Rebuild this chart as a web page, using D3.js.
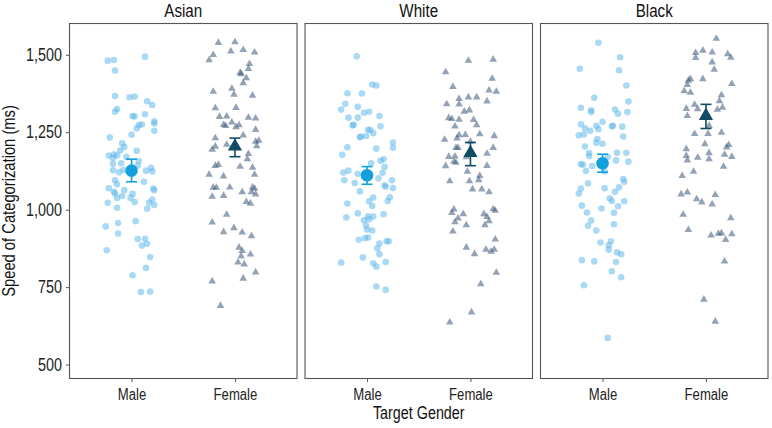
<!DOCTYPE html>
<html><head><meta charset="utf-8">
<script src="https://cdn.jsdelivr.net/npm/d3@7"></script>
<style>
html,body{margin:0;padding:0;background:#fff;}
svg text{font-family:"Liberation Sans",Arial,sans-serif;}
</style></head>
<body><svg id="chart" width="772" height="428"></svg>
<script>
// ---------- data ----------
const races = ["Asian", "White", "Black"];
const genders = ["Male", "Female"];
const yTicks = [500, 750, 1000, 1250, 1500];
const yTitle = "Speed of Categorization (ms)";
const xTitle = "Target Gender";

// individual participants: [RT in ms, horizontal jitter in category units]
const asianMale = [[1481,-0.23],[1483,-0.17],[1494,0.13],[1449,-0.16],[1367,-0.16],[1363,-0.02],[1365,0.03],[1350,0.15],[1338,0.2],[1325,-0.14],[1316,-0.16],[1302,0.01],[1301,0.03],[1308,0.13],[1285,0.22],[1278,0.22],[1275,0.1],[1273,0.07],[1262,0.05],[1255,0.22],[1242,0.0],[1233,-0.21],[1214,-0.09],[1202,-0.07],[1191,-0.11],[1190,0.05],[1175,-0.22],[1178,-0.17],[1175,-0.14],[1167,-0.18],[1171,-0.05],[1157,0.07],[1148,-0.18],[1150,-0.1],[1142,0.06],[1127,-0.18],[1128,-0.08],[1121,-0.12],[1135,0.19],[1126,0.14],[1123,0.2],[1095,-0.16],[1082,-0.14],[1090,0.12],[1069,-0.22],[1058,-0.17],[1063,-0.07],[1052,-0.16],[1044,-0.09],[1051,0.01],[1068,0.21],[1063,0.22],[1033,0.2],[1038,-0.14],[1038,-0.01],[1022,-0.23],[1025,0.03],[1022,0.17],[1015,0.22],[1006,-0.14],[1003,0.15],[946,-0.25],[957,-0.13],[963,0.04],[923,-0.13],[905,0.06],[906,0.13],[884,0.1],[890,0.15],[869,-0.24],[847,0.18],[812,0.14],[788,0.01],[734,0.09],[736,0.18]];
const asianFemale = [[1539,-0.16],[1541,0.0],[1500,-0.21],[1511,-0.04],[1516,0.08],[1508,0.19],[1483,-0.25],[1471,0.14],[1455,0.13],[1442,0.05],[1438,0.06],[1425,0.11],[1409,0.08],[1381,-0.21],[1391,-0.03],[1372,-0.01],[1368,0.17],[1328,-0.19],[1329,0.01],[1300,-0.15],[1301,-0.08],[1297,0.13],[1295,0.2],[1274,-0.11],[1271,-0.09],[1282,-0.03],[1267,0.01],[1273,0.04],[1258,0.2],[1240,0.08],[1231,-0.19],[1223,0.23],[1220,0.2],[1204,-0.19],[1210,-0.08],[1194,-0.22],[1205,0.21],[1180,0.13],[1163,0.12],[1142,-0.19],[1145,-0.16],[1139,0.05],[1136,0.17],[1113,-0.25],[1108,-0.11],[1113,0.19],[1071,-0.21],[1071,-0.18],[1072,-0.05],[1072,0.17],[1068,0.19],[1042,-0.22],[1045,-0.11],[1057,0.07],[1057,0.16],[1050,0.2],[1025,0.11],[1020,0.15],[984,-0.08],[959,-0.22],[928,-0.11],[941,-0.01],[927,0.07],[915,0.16],[878,0.04],[867,0.07],[850,0.06],[856,0.15],[830,0.03],[824,0.09],[798,0.2],[769,-0.22],[778,0.08],[690,-0.14]];
const whiteMale = [[1495,-0.1],[1404,0.05],[1401,0.09],[1376,-0.19],[1375,-0.05],[1342,-0.21],[1323,-0.25],[1332,-0.09],[1313,-0.03],[1316,0.02],[1302,0.12],[1297,-0.18],[1297,-0.09],[1274,-0.13],[1272,-0.14],[1269,0.13],[1258,0.01],[1257,0.03],[1247,0.06],[1236,-0.06],[1234,-0.07],[1238,-0.01],[1217,0.25],[1201,-0.19],[1197,0.09],[1200,0.25],[1177,-0.24],[1163,0.16],[1158,0.13],[1150,0.04],[1138,0.17],[1120,-0.23],[1126,-0.18],[1116,-0.09],[1119,0.15],[1095,-0.22],[1086,-0.12],[1101,0.11],[1095,0.24],[1079,0.17],[1074,0.18],[1070,0.25],[1059,-0.07],[1039,0.06],[1040,0.22],[1020,-0.19],[1027,0.02],[1012,0.05],[1028,0.2],[975,-0.2],[988,-0.09],[979,0.01],[978,0.06],[985,0.16],[966,-0.03],[969,0.02],[949,-0.01],[936,0.0],[933,0.05],[903,-0.08],[908,-0.02],[910,0.01],[891,0.12],[898,0.19],[898,0.21],[875,0.1],[856,0.12],[846,-0.04],[829,-0.25],[827,0.06],[816,0.09],[831,0.18],[752,0.09],[741,0.18]];
const whiteFemale = [[1481,-0.02],[1485,0.22],[1444,-0.24],[1423,0.21],[1397,-0.17],[1385,0.18],[1381,0.25],[1358,-0.11],[1363,-0.02],[1363,0.06],[1341,-0.23],[1340,-0.11],[1350,0.16],[1317,-0.06],[1321,-0.01],[1296,-0.21],[1293,-0.18],[1291,-0.11],[1290,0.03],[1269,-0.15],[1273,0.06],[1241,-0.11],[1242,-0.05],[1244,0.09],[1238,0.23],[1226,-0.25],[1230,-0.13],[1220,0.0],[1200,-0.14],[1200,-0.12],[1200,0.22],[1171,-0.21],[1172,-0.15],[1170,-0.04],[1181,0.16],[1141,-0.24],[1155,-0.16],[1152,-0.14],[1142,0.16],[1123,-0.03],[1109,0.09],[1092,-0.2],[1092,-0.01],[1096,0.08],[1066,0.02],[1066,0.11],[1057,0.18],[1001,-0.16],[990,-0.18],[986,-0.07],[972,-0.12],[960,-0.15],[950,-0.04],[986,0.13],[977,0.16],[1002,0.22],[997,0.24],[963,0.18],[950,0.14],[930,-0.17],[904,0.24],[878,-0.04],[857,0.04],[871,0.15],[865,0.2],[871,0.23],[797,0.25],[760,0.1],[669,0.01],[636,-0.2]];
const blackMale = [[1539,-0.04],[1492,0.17],[1455,-0.22],[1450,0.16],[1401,0.23],[1361,-0.08],[1349,0.25],[1329,-0.21],[1321,-0.11],[1315,-0.11],[1323,0.12],[1315,0.24],[1310,0.15],[1284,0.0],[1276,-0.21],[1271,-0.06],[1263,-0.17],[1260,-0.04],[1269,0.09],[1271,0.1],[1268,0.19],[1240,-0.23],[1243,-0.18],[1255,-0.12],[1228,-0.05],[1216,-0.06],[1236,0.2],[1213,0.0],[1204,-0.17],[1183,-0.13],[1184,0.14],[1184,0.23],[1173,-0.13],[1171,0.05],[1147,-0.21],[1145,-0.19],[1141,-0.1],[1159,0.13],[1155,0.25],[1125,-0.16],[1123,0.02],[1085,-0.14],[1099,0.2],[1090,0.21],[1072,0.16],[1068,-0.21],[1069,0.02],[1058,0.12],[1052,-0.23],[1037,0.07],[1028,0.09],[1013,-0.2],[1004,-0.01],[1011,0.15],[1027,0.21],[991,-0.15],[990,0.11],[965,-0.11],[948,-0.14],[953,0.11],[933,-0.06],[894,-0.02],[898,0.08],[885,0.06],[871,0.06],[862,0.14],[856,0.18],[837,-0.2],[833,-0.08],[831,0.13],[801,0.09],[782,0.18],[756,-0.18],[586,0.05]];
const blackFemale = [[1552,0.1],[1506,-0.1],[1514,-0.03],[1508,0.06],[1502,0.21],[1490,-0.1],[1491,0.24],[1476,0.06],[1452,0.08],[1422,-0.15],[1417,-0.17],[1422,-0.03],[1403,-0.18],[1383,-0.21],[1378,-0.15],[1406,0.25],[1370,0.15],[1351,0.13],[1330,0.16],[1326,-0.19],[1339,-0.11],[1325,-0.08],[1323,0.11],[1303,-0.18],[1271,0.03],[1245,-0.11],[1245,0.02],[1249,0.15],[1212,-0.01],[1209,0.22],[1201,0.2],[1196,-0.19],[1174,-0.19],[1168,-0.08],[1183,0.03],[1163,0.03],[1178,0.18],[1171,0.25],[1159,-0.18],[1139,0.17],[1123,-0.12],[1109,-0.23],[1050,-0.24],[1056,-0.18],[1048,0.09],[1034,-0.09],[1024,-0.04],[1017,0.06],[984,-0.22],[973,0.24],[935,-0.17],[917,0.05],[923,0.12],[924,0.15],[903,0.19],[921,0.25],[833,0.18],[710,-0.02],[639,0.09]];

// group means with error bars, order: Asian, White, Black
const meanMale = [1126, 1111, 1150];
const lowMale = [1090, 1082, 1121];
const highMale = [1163, 1139, 1179];
const meanFemale = [1204, 1183, 1303];
const lowFemale = [1171, 1142, 1262];
const highFemale = [1231, 1217, 1340];

const points = {
  Asian: {Male: asianMale, Female: asianFemale},
  White: {Male: whiteMale, Female: whiteFemale},
  Black: {Male: blackMale, Female: blackFemale}
};

// ---------- layout ----------
const svg = d3.select("#chart");
const panelTop = 23.5, panelBottom = 378.5;
const panelLeft0 = 69.5, panelW = 227.5, panelGap = 8;
const NARROW = 0.82; // horizontal squeeze to mimic a narrow sans

const y = d3.scaleLinear().domain([455, 1601]).range([panelBottom, panelTop]);

const maleFill = "#56B4E9", femaleFill = "#3b5878";
const maleMean = "#14a0dc", femaleMean = "#0f4c63";
const tri = d3.symbol().type(d3.symbolTriangle);

// squeeze a text selection horizontally around its own x position
function narrow(sel) {
  sel.each(function () {
    const t = d3.select(this);
    const x = +(t.attr("x") || 0);
    const prev = t.attr("transform") || "";
    t.attr("x", x / NARROW).attr("transform", (prev + ` scale(${NARROW},1)`).trim());
  });
}

races.forEach((race, i) => {
  const left = panelLeft0 + i * (panelW + panelGap);
  const x = d3.scaleLinear().domain([0.4, 2.6]).range([left, left + panelW]);
  const g = svg.append("g");

  // facet title
  svg.append("text").attr("x", left + panelW / 2).attr("y", 17)
    .attr("text-anchor", "middle").attr("font-size", 18.5).attr("fill", "#111").text(race)
    .call(narrow);

  // x axis
  const xAxis = d3.axisBottom(x).tickValues([1, 2]).tickFormat(d => genders[d - 1])
    .tickSize(3.5).tickSizeOuter(0);
  const ax = svg.append("g").attr("transform", `translate(0,${panelBottom})`).call(xAxis);
  ax.select(".domain").remove();
  ax.selectAll(".tick line").attr("stroke", "#555");
  ax.selectAll(".tick text").attr("font-size", 16).attr("fill", "#222").attr("dy", "0.95em")
    .attr("font-family", "Liberation Sans, Arial, sans-serif").call(narrow);

  // male points
  g.selectAll("circle.pt").data(points[race].Male).join("circle")
    .attr("class", "pt")
    .attr("cx", d => x(1 + d[1])).attr("cy", d => y(d[0])).attr("r", 3.3)
    .attr("fill", maleFill).attr("fill-opacity", 0.5);
  // female points
  g.selectAll("path.pt").data(points[race].Female).join("path")
    .attr("class", "pt")
    .attr("d", tri.size(25)())
    .attr("transform", d => `translate(${x(2 + d[1])},${y(d[0])})`)
    .attr("fill", femaleFill).attr("fill-opacity", 0.55);

  // error bars + means
  const drawErr = (cx, lo, hi, col) => {
    g.append("line").attr("x1", cx).attr("x2", cx).attr("y1", y(lo)).attr("y2", y(hi))
      .attr("stroke", col).attr("stroke-width", 1.6);
    [lo, hi].forEach(v => g.append("line").attr("x1", cx - 5.5).attr("x2", cx + 5.5)
      .attr("y1", y(v)).attr("y2", y(v)).attr("stroke", col).attr("stroke-width", 1.6));
  };
  drawErr(x(1), lowMale[i], highMale[i], maleMean);
  g.append("circle").attr("cx", x(1)).attr("cy", y(meanMale[i])).attr("r", 6.3).attr("fill", maleMean);
  drawErr(x(2), lowFemale[i], highFemale[i], femaleMean);
  g.append("path").attr("d", d3.symbol().type(d3.symbolTriangle).size(88)())
    .attr("transform", `translate(${x(2)},${y(meanFemale[i])})`).attr("fill", femaleMean);

  // panel border
  svg.append("rect").attr("x", left).attr("y", panelTop).attr("width", panelW)
    .attr("height", panelBottom - panelTop).attr("fill", "none").attr("stroke", "#555").attr("stroke-width", 1.1);

  if (i === 0) {
    const yAxis = d3.axisLeft(y).tickValues(yTicks).tickFormat(d3.format(",")).tickSize(3.5).tickPadding(4);
    const ay = svg.append("g").attr("transform", `translate(${left},0)`).call(yAxis);
    ay.select(".domain").remove();
    ay.selectAll(".tick line").attr("stroke", "#555");
    ay.selectAll(".tick text").attr("font-size", 17.5).attr("fill", "#222")
      .attr("font-family", "Liberation Sans, Arial, sans-serif").call(narrow);
  }
});

// axis titles
svg.append("text").attr("transform", `translate(15,${(panelTop + panelBottom) / 2}) rotate(-90)`)
  .attr("text-anchor", "middle").attr("font-size", 18).attr("fill", "#111").text(yTitle).call(narrow);
svg.append("text").attr("x", panelLeft0 + (3 * panelW + 2 * panelGap) / 2).attr("y", 419)
  .attr("text-anchor", "middle").attr("font-size", 17.5).attr("fill", "#111").text(xTitle).call(narrow);
</script></body></html>
